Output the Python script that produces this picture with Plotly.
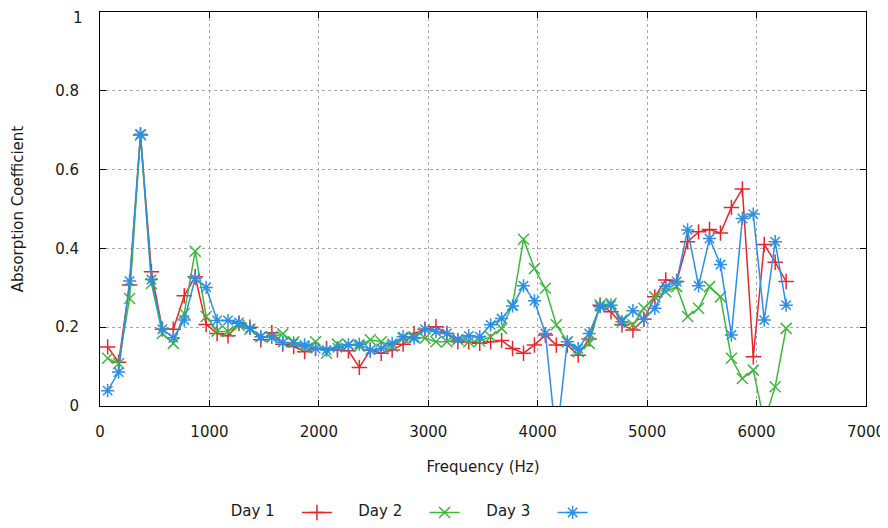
import plotly.graph_objects as go

# Frequencies (Hz)
freq = [70, 170, 270, 370, 470, 570, 670, 770, 870, 970,
        1070, 1170, 1270, 1370, 1470, 1570, 1670, 1770, 1870, 1970,
        2070, 2170, 2270, 2370, 2470, 2570, 2670, 2770, 2870, 2970,
        3070, 3170, 3270, 3370, 3470, 3570, 3670, 3770, 3870, 3970,
        4070, 4170, 4270, 4370, 4470, 4570, 4670, 4770, 4870, 4970,
        5070, 5170, 5270, 5370, 5470, 5570, 5670, 5770, 5870, 5970,
        6070, 6170, 6270]

day1 = [0.150, 0.111, 0.307, 0.688, 0.341, 0.195, 0.195, 0.280, 0.328, 0.207,
        0.184, 0.178, 0.210, 0.200, 0.168, 0.186, 0.157, 0.151, 0.138, 0.146,
        0.146, 0.142, 0.140, 0.098, 0.142, 0.134, 0.142, 0.157, 0.184, 0.195,
        0.201, 0.184, 0.163, 0.163, 0.159, 0.163, 0.166, 0.146, 0.134, 0.155,
        0.180, 0.155, 0.155, 0.129, 0.170, 0.256, 0.239, 0.206, 0.193, 0.220,
        0.277, 0.320, 0.316, 0.417, 0.442, 0.448, 0.439, 0.504, 0.551, 0.125,
        0.410, 0.365, 0.316]

day2 = [0.121, 0.108, 0.273, 0.688, 0.311, 0.184, 0.159, 0.235, 0.393, 0.227,
        0.190, 0.189, 0.205, 0.195, 0.176, 0.176, 0.183, 0.163, 0.149, 0.163,
        0.134, 0.157, 0.156, 0.152, 0.168, 0.163, 0.152, 0.172, 0.176, 0.172,
        0.163, 0.163, 0.168, 0.163, 0.165, 0.176, 0.197, 0.256, 0.423, 0.349,
        0.299, 0.206, 0.163, 0.138, 0.159, 0.256, 0.260, 0.218, 0.206, 0.248,
        0.277, 0.290, 0.303, 0.227, 0.248, 0.303, 0.277, 0.121, 0.070, 0.091,
        -0.040, 0.049, 0.197]

day3 = [0.039, 0.086, 0.317, 0.690, 0.321, 0.195, 0.173, 0.218, 0.324, 0.301,
        0.217, 0.217, 0.212, 0.197, 0.176, 0.174, 0.161, 0.160, 0.155, 0.146,
        0.142, 0.148, 0.155, 0.157, 0.142, 0.146, 0.159, 0.176, 0.172, 0.195,
        0.189, 0.184, 0.169, 0.178, 0.176, 0.206, 0.222, 0.254, 0.305, 0.267,
        0.184, -0.090, 0.163, 0.146, 0.184, 0.252, 0.256, 0.214, 0.242, 0.220,
        0.248, 0.303, 0.316, 0.447, 0.305, 0.425, 0.359, 0.180, 0.476, 0.487,
        0.218, 0.417, 0.256]

y_ticks = [0, 0.2, 0.4, 0.6, 0.8, 1]
y_ticktext = ["0", "0.2", "0.4", "0.6", "0.8", "1"]
x_ticks = [0, 1000, 2000, 3000, 4000, 5000, 6000, 7000]

series = [
    ("Day 1", day1, "#e8262a", "cross-thin", "legend"),
    ("Day 2", day2, "#3db83d", "x-thin", "legend2"),
    ("Day 3", day3, "#2b8fe8", "asterisk", "legend3"),
]

FONT = "DejaVu Sans"
TXT = "#1a1a1a"
PAD = "&nbsp;&nbsp;&nbsp;"

fig = go.Figure()
for name, vals, col, sym, lg in series:
    fig.add_trace(go.Scatter(
        x=freq, y=vals, mode="lines+markers", name=" ",
        line=dict(color=col, width=1.5),
        marker=dict(symbol=sym, size=11, color=col, line=dict(color=col, width=1.5)),
        legend=lg, showlegend=True,
    ))

def leg(title, xpos):
    return dict(
        title=dict(text=title + PAD, side="left", font=dict(family=FONT, size=15, color=TXT)),
        orientation="h", xref="container", yref="container",
        x=xpos, y=0.0294, xanchor="left", yanchor="middle",
        bgcolor="rgba(0,0,0,0)", font=dict(family=FONT, size=15, color=TXT),
        itemwidth=30, tracegroupgap=0,
    )

axis_common = dict(
    showline=True, linecolor="black", linewidth=1, mirror="ticks",
    ticks="inside", ticklen=6, tickcolor="black",
    showgrid=True, gridcolor="#a8a8a8", gridwidth=1, griddash="3px,3px",
    zeroline=False, automargin=False, ticklabeloverflow="allow",
    tickfont=dict(family=FONT, size=15, color=TXT),
)

# top tick label would be clipped at the page edge; draw it as a slightly lowered annotation
shown_ticktext = y_ticktext[:-1] + [""]

fig.update_layout(
    width=880, height=520, autosize=False,
    margin=dict(l=92, r=22, t=4, b=121.5),
    plot_bgcolor="white", paper_bgcolor="white",
    showlegend=True,
    legend=leg("Day 1", 0.2508),
    legend2=leg("Day 2", 0.3958),
    legend3=leg("Day 3", 0.5413),
    xaxis=dict(range=[0, 7000], tickvals=x_ticks,
               title=dict(text="Frequency (Hz)", font=dict(family=FONT, size=15, color=TXT), standoff=21),
               ticklabelstandoff=12, **axis_common),
    yaxis=dict(range=[0, 1], tickvals=y_ticks, ticktext=shown_ticktext,
               title=dict(text="Absorption Coefficient", font=dict(family=FONT, size=15, color=TXT), standoff=27),
               ticklabelstandoff=17, **axis_common),
    annotations=[dict(
        text=y_ticktext[-1], xref="paper", yref="y", x=0, y=y_ticks[-1],
        xanchor="right", yanchor="top", xshift=-16, yshift=4,
        showarrow=False, borderpad=0, font=dict(family=FONT, size=15, color=TXT),
    )],
)

fig.write_html("out.html")
